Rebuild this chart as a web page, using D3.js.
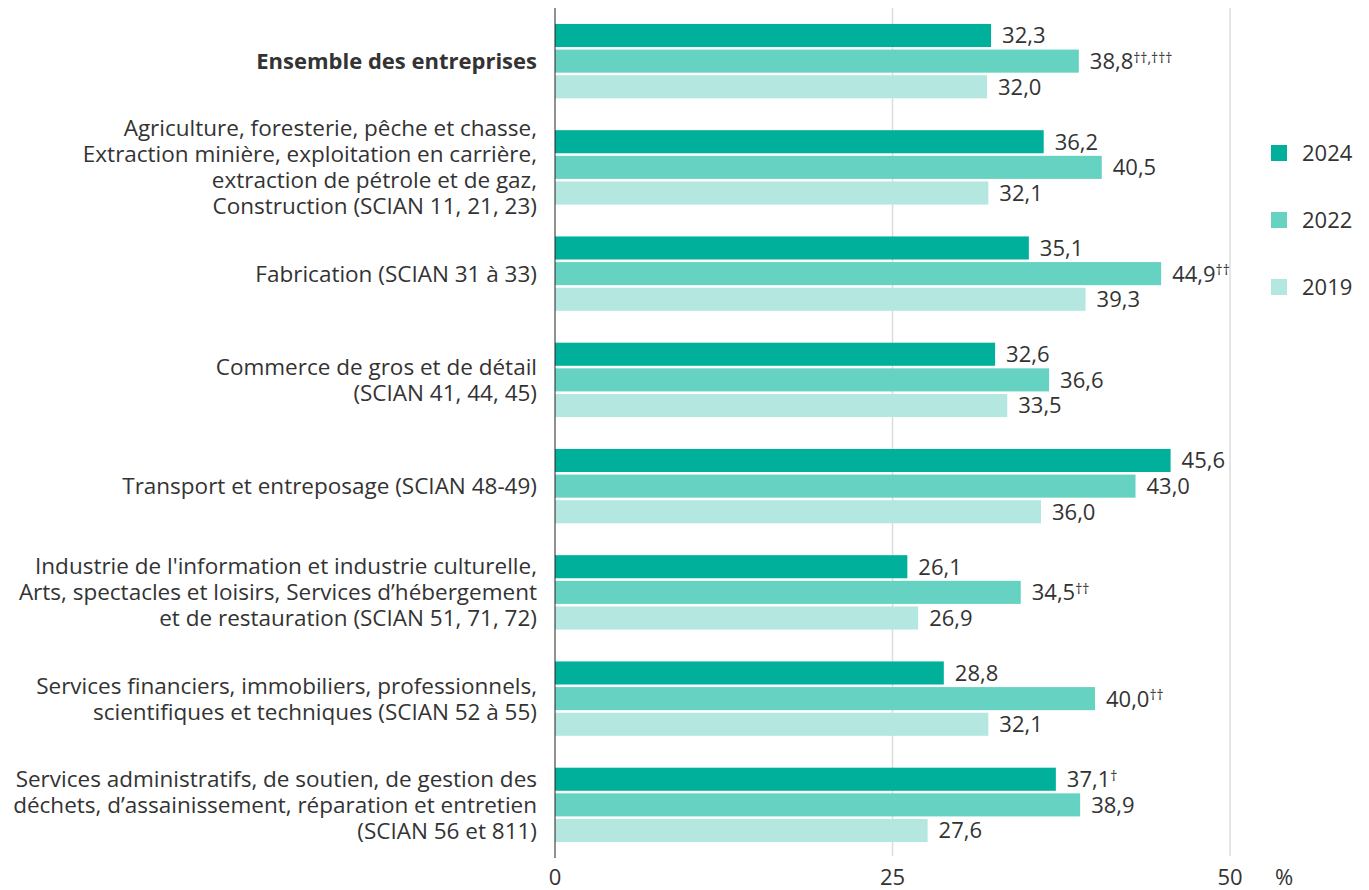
<!DOCTYPE html>
<html>
<head>
<meta charset="utf-8">
<script src="https://cdn.jsdelivr.net/npm/d3@7"></script>
<style>
  body { margin: 0; background: #fff; }
  svg text { font-family: "Open Sans", "Noto Sans", sans-serif; fill: #333; }
</style>
</head>
<body>
<script>
// categories (each label is split into its lines)
const categories = [
  ["Ensemble des entreprises"],
  ["Agriculture, foresterie, pêche et chasse,", "Extraction minière, exploitation en carrière,", "extraction de pétrole et de gaz,", "Construction (SCIAN 11, 21, 23)"],
  ["Fabrication (SCIAN 31 à 33)"],
  ["Commerce de gros et de détail", "(SCIAN 41, 44, 45)"],
  ["Transport et entreposage (SCIAN 48-49)"],
  ["Industrie de l'information et industrie culturelle,", "Arts, spectacles et loisirs, Services d’hébergement", "et de restauration (SCIAN 51, 71, 72)"],
  ["Services financiers, immobiliers, professionnels,", "scientifiques et techniques (SCIAN 52 à 55)"],
  ["Services administratifs, de soutien, de gestion des", "déchets, d’assainissement, réparation et entretien", "(SCIAN 56 et 811)"]
];
const years = ["2024", "2022", "2019"];
const v2024 = [32.3, 36.2, 35.1, 32.6, 45.6, 26.1, 28.8, 37.1];
const v2022 = [38.8, 40.5, 44.9, 36.6, 43.0, 34.5, 40.0, 38.9];
const v2019 = [32.0, 32.1, 39.3, 33.5, 36.0, 26.9, 32.1, 27.6];
const n2024 = ["", "", "", "", "", "", "", "†"];
const n2022 = ["††,†††", "", "††", "", "", "††", "††", ""];
const n2019 = ["", "", "", "", "", "", "", ""];
const xTicks = [0, 25, 50];
const colors = ["#00b09b", "#66d2c2", "#b3e7df"];

const W = 1369, H = 890;
const svg = d3.select("body").append("svg").attr("width", W).attr("height", H);

const x = d3.scaleLinear().domain([0, 50]).range([555, 1230]);
const y0 = d3.scaleBand().domain(d3.range(categories.length)).range([8, 858])
  .paddingInner(0.3).paddingOuter(0.15);
const y1 = d3.scaleBand().domain(years).range([0, y0.bandwidth()]).paddingInner(0.1);

const series = [v2024, v2022, v2019];
const notes = [n2024, n2022, n2019];

// grid lines
svg.append("g").selectAll("line")
  .data(xTicks.filter(t => t > 0))
  .enter().append("line")
  .attr("x1", d => x(d)).attr("x2", d => x(d))
  .attr("y1", 8).attr("y2", 856)
  .style("stroke", "#dcdcdc").style("stroke-width", 1.5);

// bars
const rows = [];
categories.forEach((c, i) => {
  years.forEach((yr, k) => {
    rows.push({ i: i, year: yr, k: k, value: series[k][i], note: notes[k][i] });
  });
});

const g = svg.append("g");
g.selectAll("rect")
  .data(rows)
  .enter().append("rect")
  .attr("x", x(0))
  .attr("y", d => y0(d.i) + y1(d.year))
  .attr("width", d => x(d.value) - x(0))
  .attr("height", y1.bandwidth())
  .style("fill", d => colors[d.k]);

// value labels
const lbl = g.selectAll(".val")
  .data(rows)
  .enter().append("text")
  .attr("class", "val")
  .attr("x", d => x(d.value) + 11)
  .attr("y", d => y0(d.i) + y1(d.year) + y1.bandwidth() / 2)
  .attr("dy", "0.36em")
  .style("font-size", "22px");
lbl.append("tspan").text(d => d3.format(".1f")(d.value).replace(".", ","));
lbl.filter(d => d.note).append("tspan")
  .attr("dy", "-0.45em")
  .style("font-size", "14px")
  .text(d => d.note);

// category labels
const lineH = 26;
svg.append("g").selectAll("text")
  .data(categories)
  .enter().append("text")
  .attr("text-anchor", "end")
  .style("font-size", (d, i) => i === 0 ? "22px" : "22.5px")
  .style("font-weight", (d, i) => i === 0 ? "bold" : "normal")
  .each(function (lines, i) {
    const cy = y0(i) + y0.bandwidth() / 2;
    const top = cy - (lines.length - 1) * lineH / 2;
    d3.select(this).selectAll("tspan")
      .data(lines)
      .enter().append("tspan")
      .attr("x", 537)
      .attr("y", (l, j) => top + j * lineH)
      .attr("dy", "0.36em")
      .text(l => l);
  });

// zero axis line
svg.append("line")
  .attr("x1", x(0)).attr("x2", x(0))
  .attr("y1", 8).attr("y2", 858)
  .style("stroke", "#222").style("stroke-width", 1);

// x axis tick labels
svg.append("g").selectAll("text")
  .data(xTicks)
  .enter().append("text")
  .attr("x", d => x(d))
  .attr("y", 885)
  .attr("text-anchor", "middle")
  .style("font-size", "22px")
  .text(d => d);
svg.append("text")
  .attr("x", 1284).attr("y", 885)
  .attr("text-anchor", "middle")
  .style("font-size", "22px")
  .text("%");

// legend
const legend = svg.append("g").selectAll("g")
  .data(years)
  .enter().append("g")
  .attr("transform", (d, k) => "translate(1271," + (153 + k * 67) + ")");
legend.append("rect")
  .attr("x", 0).attr("y", -8)
  .attr("width", 16).attr("height", 16)
  .style("fill", (d, k) => colors[k]);
legend.append("text")
  .attr("x", 31).attr("y", 0).attr("dy", "0.36em")
  .style("font-size", "22px")
  .text(d => d);
</script>
</body>
</html>
